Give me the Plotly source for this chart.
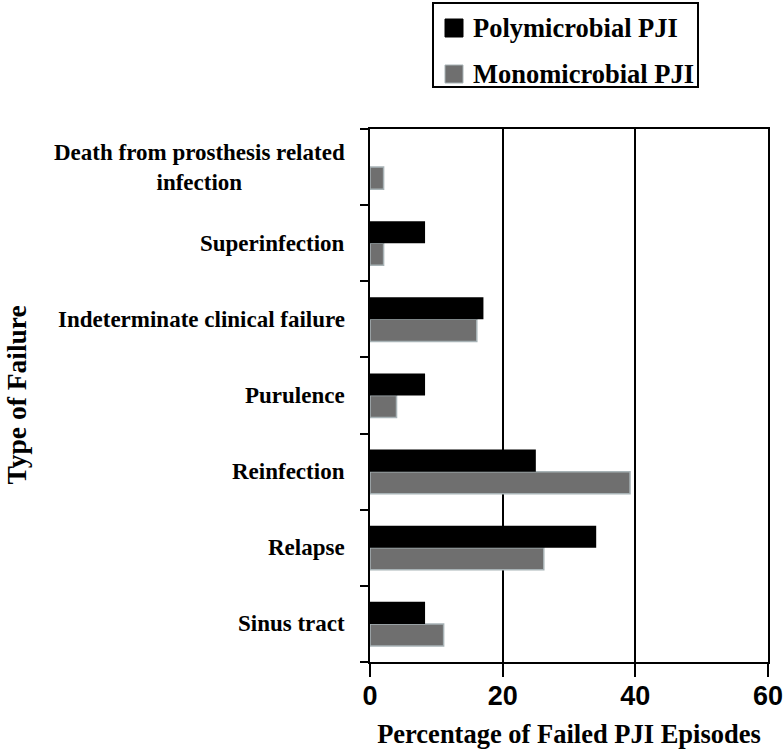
import plotly.graph_objects as go

categories = ["Sinus tract", "Relapse", "Reinfection", "Purulence",
              "Indeterminate clinical failure", "Superinfection",
              "Death from prosthesis related<br>infection"]
poly_values = [8.3, 34.1, 25.0, 8.3, 17.1, 8.3, 0.0]
mono_values = [11.1, 26.2, 39.2, 4.0, 16.1, 2.05, 2.05]
x_ticks = [0, 20, 40, 60]

serif = "Liberation Serif, Times New Roman, serif"
sans = "Liberation Sans, Arial, sans-serif"

W, H = 783, 749
L, R, T, B = 370, 15, 129, 87
PW, PH = W - L - R, H - T - B

def px(xs):
    return (xs - L) / PW

def py(ys):
    return (H - B - ys) / PH

fig = go.Figure()
fig.add_trace(go.Bar(y=categories, x=mono_values, orientation="h",
                     name="Monomicrobial PJI", showlegend=False,
                     marker=dict(color="#6f6f6f", line=dict(color="#a8b3b6", width=1.5))))
fig.add_trace(go.Bar(y=categories, x=poly_values, orientation="h",
                     name="Polymicrobial PJI", showlegend=False,
                     marker=dict(color="#000000", line=dict(color="#000000", width=0))))

for c in categories:
    fig.add_annotation(x=px(347), xref="paper", y=c, yref="y", text=c,
                       xanchor="right", yanchor="middle", align="center",
                       showarrow=False,
                       font=dict(family=serif, size=23, color="black", weight="bold"))

# y axis title
fig.add_annotation(x=px(16), xref="paper", y=0.5, yref="paper", text="Type of Failure",
                   textangle=-90, xanchor="center", yanchor="middle", showarrow=False,
                   font=dict(family=serif, size=27.5, color="black", weight="bold"))

# manual legend
fig.add_shape(type="rect", xref="paper", yref="paper",
              x0=px(433), x1=px(698), y0=py(87), y1=py(3),
              line=dict(color="black", width=2), fillcolor="white")
leg = [("Polymicrobial PJI", "#000000", "#000000", 28), ("Monomicrobial PJI", "#6f6f6f", "#a8b3b6", 74)]
for name, col, lcol, yc in leg:
    fig.add_shape(type="rect", xref="paper", yref="paper",
                  x0=px(445), x1=px(463), y0=py(yc + 9), y1=py(yc - 9),
                  line=dict(color=lcol, width=1), fillcolor=col)
    fig.add_annotation(x=px(471), xref="paper", y=py(yc), yref="paper",
                       text=name, xanchor="left", yanchor="middle", showarrow=False,
                       font=dict(family=serif, size=26.5, color="black", weight="bold"))

fig.update_layout(
    width=W, height=H,
    margin=dict(l=L, r=R, t=T, b=B, autoexpand=False),
    paper_bgcolor="white", plot_bgcolor="white",
    barmode="group", bargap=0.42, bargroupgap=0,
    xaxis=dict(range=[0, 60], tickvals=x_ticks, ticks="outside", ticklen=13,
               tickwidth=2, tickcolor="black", showline=True, linecolor="black",
               linewidth=2, mirror=True, showgrid=True, gridcolor="black",
               gridwidth=2, zeroline=False, automargin=False,
               ticklabeloverflow="allow", ticklabelstandoff=-4,
               tickfont=dict(family=sans, size=27, color="black", weight="bold"),
               title=dict(text="Percentage of Failed PJI Episodes", standoff=14,
                          font=dict(family=serif, size=26.5, color="black", weight="bold"))),
    yaxis=dict(categoryorder="array", categoryarray=categories,
               tickson="boundaries", ticks="outside", ticklen=8, tickwidth=2,
               tickcolor="black", showticklabels=False, showline=True,
               linecolor="black", linewidth=2, mirror=True, showgrid=False,
               automargin=False),
)

fig.write_html("out.html", config={"displayModeBar": False},
               post_script="document.body.style.margin='0';document.body.style.overflow='hidden';")
